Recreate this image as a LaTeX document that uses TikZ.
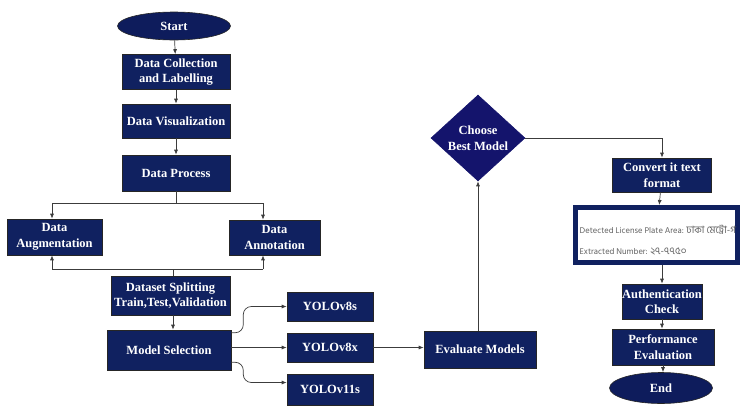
\documentclass[tikz,border=0pt]{standalone}
\usepackage{fontspec}
\setmainfont{Liberation Serif}
\newfontfamily\bnfont[Script=Bengali]{Hind Siliguri}
\usetikzlibrary{shapes.geometric,arrows.meta,calc}
\definecolor{navy}{RGB}{16,33,96}
\definecolor{navyd}{RGB}{20,20,108}
\definecolor{navyo}{RGB}{14,28,92}
\definecolor{lin}{RGB}{60,60,60}
\begin{document}
\begin{tikzpicture}[x=1pt,y=-1pt,
  box/.style={draw=black!85, line width=0.6pt, fill=navy, text=white,
    font=\fontsize{12.5}{15.5}\selectfont\bfseries, align=center, inner sep=0pt},
  oval/.style={box, ellipse, fill=navyo},
  dia/.style={box, diamond, fill=navyd, draw=navyd},
  arr/.style={-{Latex[length=5pt,width=4pt]}, draw=lin, line width=0.7pt},
  con/.style={draw=lin, line width=0.7pt}]
\useasboundingbox (0,0) rectangle (740,405);

% left column
\node[oval, minimum width=113pt, minimum height=28pt] (start) at (174,26) {Start};
\node[box, minimum width=108pt, minimum height=35pt] (collect) at (176,72) {Data Collection\\and Labelling};
\node[box, minimum width=108pt, minimum height=34pt] (vis) at (176,121) {Data Visualization};
\node[box, minimum width=108pt, minimum height=36pt] (proc) at (176,173) {Data Process};
\node[box, minimum width=95pt, minimum height=36pt] (aug) at (54.5,237) {Data\\Augmentation};
\node[box, minimum width=91pt, minimum height=35pt] (ann) at (274.5,237.5) {Data\\Annotation};
\node[box, minimum width=119pt, minimum height=39pt] (split) at (170.5,295.5) {Dataset Splitting\\Train,Test,Validation};
\node[box, minimum width=124pt, minimum height=40pt] (ms) at (169,350) {Model Selection};
\node[box, minimum width=86pt, minimum height=29pt] (y8s) at (330,306.5) {YOLOv8s};
\node[box, minimum width=86pt, minimum height=29pt] (y8x) at (330,347.5) {YOLOv8x};
\node[box, minimum width=86pt, minimum height=31pt] (y11s) at (330,389.5) {YOLOv11s};

% middle
\node[box, minimum width=112pt, minimum height=37pt] (eval) at (480,349.5) {Evaluate Models};
\node[dia, minimum width=94pt, minimum height=86pt] (choose) at (478,138) {Choose\\Best Model};

% right column
\node[box, minimum width=99pt, minimum height=34pt] (conv) at (662,175) {Convert it text\\format};
\node[draw=navy, line width=5pt, fill=white, minimum width=162pt, minimum height=55pt,
  inner sep=0pt] (panel) at (656.5,235) {};
\node[anchor=west, inner sep=0pt, text=black!62, align=left,
  font=\bnfont\fontsize{8.5}{21}\selectfont] (ptext) at (579.5,240)
  {\mbox{Detected License Plate Area: {\fontsize{10}{10}\selectfont ঢাকা মেট্রো-গ}}\\
   \mbox{Extracted Number: {\fontsize{10}{10}\selectfont ২৭-৭৭৫০}}};
\node[box, minimum width=79pt, minimum height=35pt] (auth) at (662,301.5) {Authentication\\Check};
\node[box, minimum width=102pt, minimum height=36pt] (perf) at (663,347) {Performance\\Evaluation};
\node[oval, minimum width=103pt, minimum height=31pt] (end) at (661,388) {End};

% connectors left
\draw[arr] (start) -- (collect);
\draw[arr] (collect) -- (vis);
\draw[arr] (vis) -- (proc);
\coordinate (bl) at (52,203);
\coordinate (br) at (263,203);
\coordinate (jl) at (52,269);
\coordinate (jr) at (263,269);
\draw[con] (proc.south) -- (proc.south |- bl);
\draw[con] (bl) -- (br);
\draw[arr] (bl) -- (bl |- aug.north);
\draw[arr] (br) -- (br |- ann.north);
\draw[con] (jl) -- (jr);
\draw[arr] (jl) -- (jl |- aug.south);
\draw[arr] (jr) -- (jr |- ann.south);
\draw[con] (split.north -| 173,0) -- (173,269);
\draw[arr] (173,0 |- split.south) -- (173,0 |- ms.north);

% model selection to YOLO
\draw[arr, rounded corners=8pt] ($(ms.north east)+(0,3)$) -- ++(12,0) |- (y8s.west);
\draw[arr] (ms.east |- y8x.west) -- (y8x.west);
\draw[arr, rounded corners=8pt] ($(ms.south east)+(0,-8)$) -- ++(12,0) |- ($(y11s.west)+(0,-7)$);

% to evaluate and choose
\draw[arr] (y8x.east) -- (eval.west |- y8x.east);
\draw[arr] (eval.north -| choose.south) -- (choose.south);
\draw[arr] (choose.east) -| (conv.north);
\draw[arr] (conv) -- (panel);
\draw[arr] (panel.south -| auth.north) -- (auth.north);
\draw[arr] (auth) -- (auth.south |- perf.north);
\draw[arr] (perf) -- (perf.south |- end.north);
\end{tikzpicture}
\end{document}
